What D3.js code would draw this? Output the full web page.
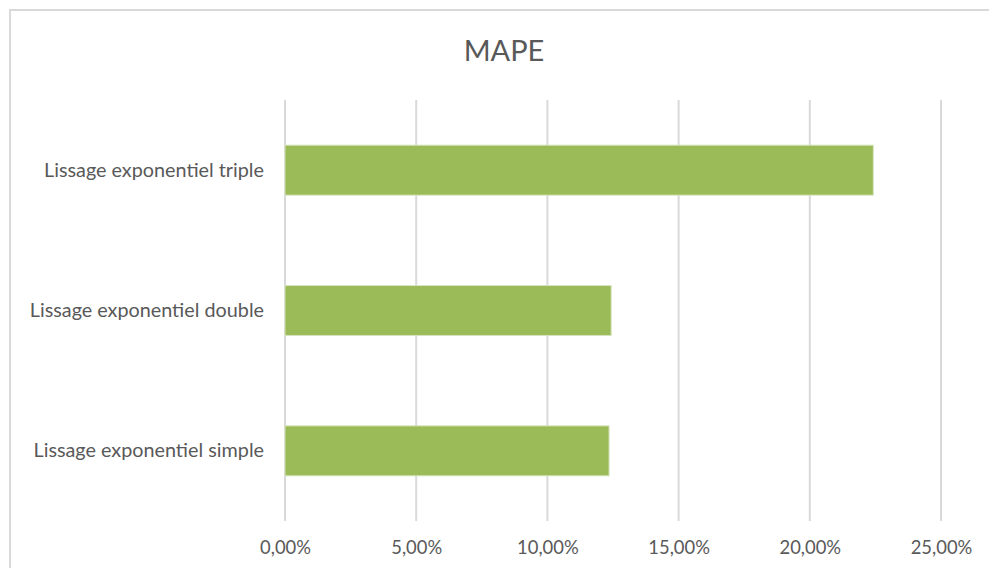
<!DOCTYPE html>
<html><head><meta charset="utf-8">
<script src="https://cdn.jsdelivr.net/npm/d3@7"></script>
<style>html,body{margin:0;padding:0;background:#fff;overflow:hidden}</style>
</head><body>
<svg id="c" width="989" height="568"></svg>
<script>
const categories = ["Lissage exponentiel triple", "Lissage exponentiel double", "Lissage exponentiel simple"];
const mapeValues = [0.2242, 0.1243, 0.1235];
const tickValues = [0, 0.05, 0.10, 0.15, 0.20, 0.25];
const chartTitle = "MAPE";

const svg = d3.select("#c");
const font = "Lato, 'Open Sans', sans-serif";
const textColor = "#595959";

svg.append("rect").attr("x", 10).attr("y", 10).attr("width", 1000).attr("height", 600)
  .attr("fill", "#fff").attr("stroke", "#d9d9d9").attr("stroke-width", 2);

const x = d3.scaleLinear().domain([0, 0.25]).range([285, 941]);
const y = d3.scaleBand().domain(categories).range([100, 521]).paddingInner(0.644).paddingOuter(0.322);

// gridlines
svg.append("g").selectAll("line").data(tickValues).join("line")
  .attr("x1", d => x(d)).attr("x2", d => x(d)).attr("y1", 100).attr("y2", 521)
  .attr("stroke", "#d9d9d9").attr("stroke-width", 2);

// bars
svg.append("g").selectAll("rect").data(mapeValues).join("rect")
  .attr("x", x(0)).attr("y", (d, i) => y(categories[i]))
  .attr("width", d => x(d) - x(0)).attr("height", y.bandwidth())
  .attr("fill", "#9bbb59").attr("stroke", "#d7e4bd").attr("stroke-width", 1);

// x axis labels
const fmt = d => (d * 100).toFixed(2).replace(".", ",") + "%";
const xAxis = d3.axisBottom(x).tickValues(tickValues).tickFormat(fmt).tickSize(0).tickPadding(0);
const gx = svg.append("g").attr("transform", "translate(0,541)").call(xAxis);
gx.select(".domain").remove();
gx.selectAll("text").attr("font-family", font).attr("font-size", 18.4).attr("fill", textColor);

// y axis labels
const yAxis = d3.axisLeft(y).tickSize(0).tickPadding(0);
const gy = svg.append("g").attr("transform", "translate(264,0)").call(yAxis);
gy.select(".domain").remove();
gy.selectAll("text").attr("font-family", font).attr("font-size", 19.8).attr("fill", textColor);

// title
svg.append("text").attr("x", 504).attr("y", 61).attr("text-anchor", "middle")
  .attr("font-family", font).attr("font-size", 29).attr("fill", textColor).text(chartTitle);
</script>
</body></html>
